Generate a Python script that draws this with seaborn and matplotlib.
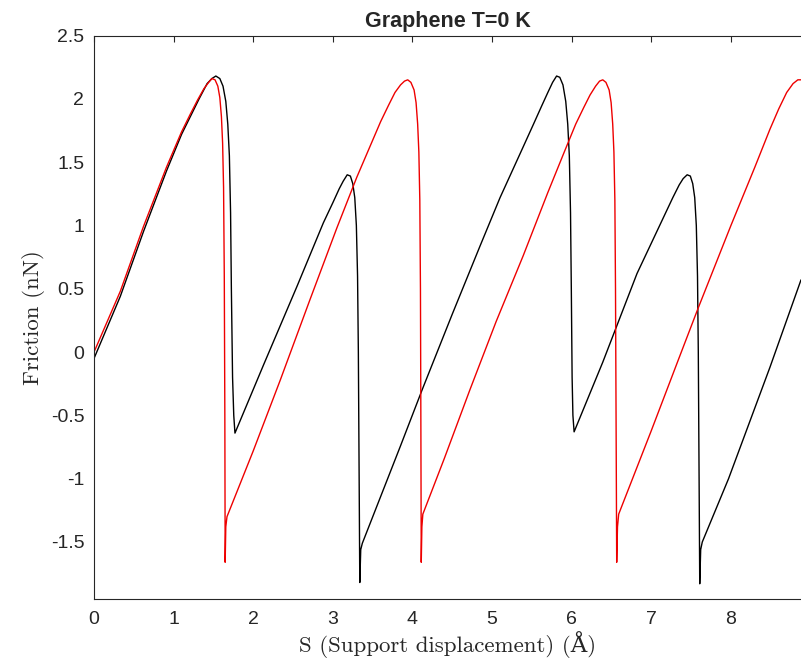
import matplotlib
matplotlib.use("Agg")

import matplotlib.pyplot as plt
import matplotlib.ticker as mticker
import seaborn as sns
import pandas as pd

# 黒: 摩擦力カーブ (支持点変位 Å, 摩擦力 nN)
black_x = [0.00, 0.33, 0.62, 0.91, 1.10, 1.21, 1.32, 1.42, 1.48, 1.53, 1.58, 1.62, 1.655, 1.68,
           1.70, 1.715, 1.725, 1.74, 1.755, 1.77,
           2.13, 2.55, 2.88, 3.00, 3.08, 3.13, 3.18, 3.22, 3.25, 3.275, 3.295, 3.31, 3.32, 3.33,
           3.338, 3.35, 3.37,
           3.85, 4.12, 4.50, 4.85, 5.10, 5.39, 5.52, 5.62, 5.70, 5.76, 5.81, 5.85, 5.89, 5.925,
           5.95, 5.97, 5.985, 5.995, 6.005, 6.015, 6.03,
           6.39, 6.82, 7.15, 7.27, 7.35, 7.40, 7.45, 7.49, 7.52, 7.545, 7.565, 7.58, 7.59, 7.60,
           7.608, 7.62, 7.64,
           7.97, 8.49, 8.88]
black_y = [-0.05, 0.44, 0.95, 1.43, 1.72, 1.86, 2.00, 2.12, 2.16, 2.18, 2.16, 2.10, 1.98, 1.80,
           1.55, 1.10, 0.50, -0.20, -0.50, -0.64,
           -0.10, 0.52, 1.02, 1.18, 1.29, 1.35, 1.40, 1.39, 1.33, 1.22, 1.00, 0.60, 0.00, -1.00,
           -1.82, -1.56, -1.51,
           -0.74, -0.30, 0.30, 0.84, 1.22, 1.62, 1.80, 1.94, 2.05, 2.13, 2.18, 2.17, 2.11, 1.98,
           1.80, 1.55, 1.10, 0.50, -0.20, -0.50, -0.63,
           -0.08, 0.62, 1.06, 1.22, 1.32, 1.37, 1.40, 1.39, 1.33, 1.22, 1.00, 0.60, 0.00, -1.00,
           -1.83, -1.56, -1.50,
           -1.00, -0.12, 0.57]

# 赤: 摩擦力カーブ
red_x = [0.00, 0.33, 0.62, 0.91, 1.10, 1.21, 1.30, 1.38, 1.44, 1.48, 1.52, 1.555, 1.58, 1.60,
         1.615, 1.627, 1.636, 1.643, 1.647, 1.655, 1.67,
         2.00, 2.34, 2.71, 3.05, 3.30, 3.45, 3.60, 3.70, 3.78, 3.85, 3.90, 3.94, 3.98, 4.02,
         4.045, 4.065, 4.08, 4.092, 4.10, 4.105, 4.11, 4.118, 4.13,
         4.40, 4.72, 5.05, 5.39, 5.70, 5.90, 6.05, 6.15, 6.23, 6.30, 6.35, 6.39, 6.43, 6.47,
         6.495, 6.515, 6.53, 6.542, 6.55, 6.557, 6.565, 6.575, 6.59,
         7.00, 7.34, 7.59, 8.00, 8.30, 8.49, 8.60, 8.70, 8.78, 8.84, 8.88]
red_y = [0.00, 0.48, 0.99, 1.46, 1.74, 1.88, 1.99, 2.08, 2.13, 2.16, 2.15, 2.10, 2.01, 1.86,
         1.65, 1.30, 0.60, -0.50, -1.66, -1.38, -1.30,
         -0.78, -0.22, 0.41, 0.98, 1.38, 1.60, 1.82, 1.95, 2.05, 2.11, 2.14, 2.15, 2.13, 2.07,
         1.97, 1.80, 1.58, 1.20, 0.50, -0.50, -1.66, -1.38, -1.28,
         -0.84, -0.30, 0.24, 0.76, 1.26, 1.57, 1.80, 1.93, 2.03, 2.10, 2.14, 2.15, 2.13, 2.07,
         1.97, 1.80, 1.58, 1.20, 0.50, -0.50, -1.66, -1.38, -1.28,
         -0.62, -0.06, 0.35, 1.00, 1.46, 1.76, 1.92, 2.05, 2.12, 2.15, 2.15]

x_ticks = [0, 1, 2, 3, 4, 5, 6, 7, 8]
y_ticks = [-1.5, -1, -0.5, 0, 0.5, 1, 1.5, 2, 2.5]

sns.set_style("white")
plt.rcParams["font.family"] = ["Liberation Sans", "DejaVu Sans"]
plt.rcParams["axes.unicode_minus"] = False

fig = plt.figure(figsize=(8.01, 6.70), dpi=100)
ax = fig.add_axes([0.1174, 0.106, 0.8826, 0.841])

df_black = pd.DataFrame({"s": black_x, "f": black_y})
df_red = pd.DataFrame({"s": red_x, "f": red_y})
sns.lineplot(data=df_black, x="s", y="f", ax=ax, color="black", linewidth=1.0,
             sort=False, estimator=None)
sns.lineplot(data=df_red, x="s", y="f", ax=ax, color="#ee0000", linewidth=1.0,
             sort=False, estimator=None)

ax.set_xlim(0, 8.88)
ax.set_ylim(-1.95, 2.5)
ax.set_xticks(x_ticks)
ax.set_yticks(y_ticks)
ax.yaxis.set_major_formatter(mticker.FuncFormatter(lambda v, p: f"{v:g}"))

ax.tick_params(axis="both", direction="in", length=4.5, width=0.8,
               colors="#262626", labelsize=14, top=True, right=False)
ax.tick_params(axis="x", pad=9)
ax.tick_params(axis="y", pad=7)
for side in ["left", "bottom", "top"]:
    ax.spines[side].set_color("#262626")
    ax.spines[side].set_linewidth(0.8)
ax.spines["right"].set_visible(False)

label_font = ["cmr10", "DejaVu Serif"]
ax.set_xlabel("S (Support displacement) (Å)", family=label_font, fontsize=16.5,
              color="#262626", labelpad=2)
ax.set_ylabel("Friction (nN)", family=label_font, fontsize=16.5,
              color="#262626", labelpad=4)
ax.set_title("Graphene T=0 K", fontsize=15.5, fontweight="bold", pad=6)

fig.savefig("out.png", dpi=100)
